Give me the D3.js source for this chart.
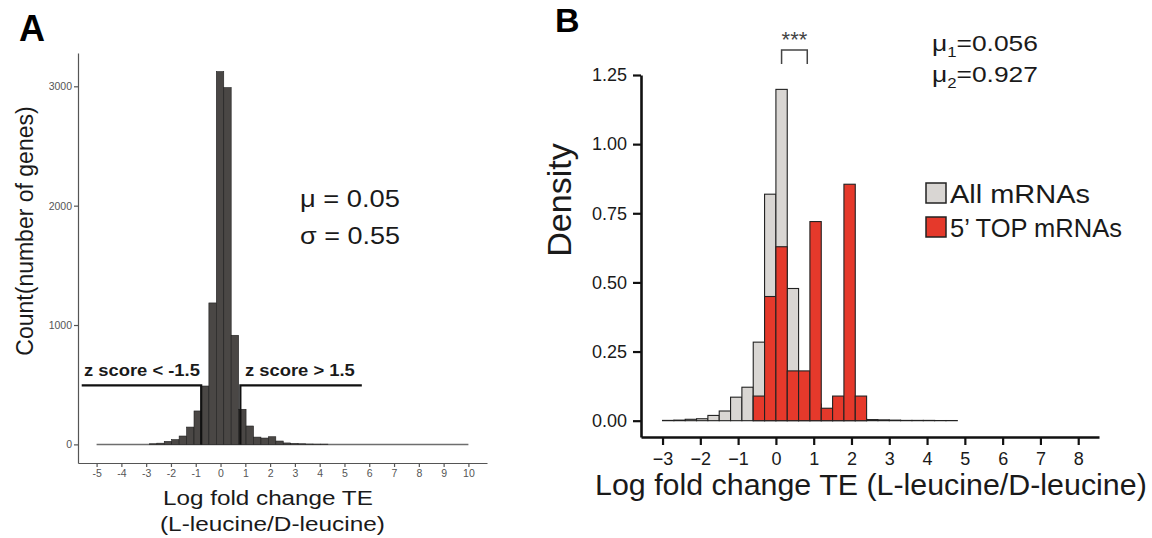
<!DOCTYPE html>
<html>
<head>
<meta charset="utf-8">
<script src="https://cdn.jsdelivr.net/npm/d3@7"></script>
<style>
    body { margin: 0; background: #fff; }
    svg { display: block; font-family: "Liberation Sans", Arial, Helvetica, sans-serif; }
</style>
</head>
<body>
<script>
// ---- Panel A: gene counts, bins of 0.3 (log fold change TE)
var countBinStart = -2.87,
    countBinWidth = 0.3,
    geneCounts = [5, 10, 25, 40, 70, 145, 280, 489, 1185, 3123, 2989, 914,
                  294, 154, 61, 53, 64, 28, 12, 8, 5, 3, 2, 2],
    countRange = [-5, 10],
    countXTicks = [-5, -4, -3, -2, -1, 0, 1, 2, 3, 4, 5, 6, 7, 8, 9, 10],
    countYTicks = [0, 1000, 2000, 3000],
    zCut = [-0.78, 0.8],
    zLevel = 495,
    zSpan = [-5.6, 5.7],
    statsA = ['\u03bc = 0.05', '\u03c3 = 0.55'];

// ---- Panel B: density, bins of 0.3 starting at -3
var densityBinStart = -3,
    densityBinWidth = 0.3,
    allDensity = [0.001, 0.002, 0.005, 0.007, 0.019, 0.035, 0.085, 0.121, 0.284, 0.819,
                  1.198, 0.478, 0.15, 0.06, 0.03, 0.015, 0.009, 0.006, 0.004, 0.003,
                  0.002, 0.001, 0.001, 0.001, 0.0005, 0.0005],
    topDensity = [0, 0, 0, 0, 0, 0, 0, 0, 0.089, 0.449,
                  0.629, 0.18, 0.18, 0.72, 0.045, 0.089, 0.855, 0.089, 0, 0,
                  0, 0, 0, 0, 0, 0],
    seriesNames = ['All mRNAs', '5\u2019 TOP mRNAs'],
    seriesColors = ['#d9d6d3', '#e5392b'],
    densityXTicks = [-3, -2, -1, 0, 1, 2, 3, 4, 5, 6, 7, 8],
    densityYTicks = [0, 0.25, 0.5, 0.75, 1, 1.25],
    meanValues = ['0.056', '0.927'],
    bracketX = [0.15, 0.83];

var width = 1152,
    height = 538;

var svg = d3.select('body').append('svg')
    .attr('width', width)
    .attr('height', height);

svg.append('rect').attr('width', width).attr('height', height).attr('fill', '#fff');

// squeeze/stretch a text horizontally to a measured width
function fitText(parent, x, y, w, size, anchor, weight) {
    var t = parent.append('text')
        .attr('font-size', size)
        .attr('font-weight', weight || 'normal')
        .attr('fill', '#1a1a1a');
    return {
        node: t,
        done: function () {
            var len = t.node().getBBox().width;
            var x0 = anchor === 'middle' ? x - w / 2 : x;
            t.attr('transform', 'translate(' + x0 + ',' + y + ') scale(' + (w / len) + ',1)');
            return t;
        }
    };
}
function plainFit(parent, str, x, y, w, size, anchor, weight) {
    var f = fitText(parent, x, y, w, size, anchor, weight);
    f.node.text(str);
    return f.done();
}

// ****************** Panel A ***************************
var gA = svg.append('g');

var xA = d3.scaleLinear().domain([-5.75, 10.75]).range([78, 487]),
    yA = d3.scaleLinear().domain([-156, 3279]).range([463, 53]);

gA.append('g')
    .attr('transform', 'translate(78,0)')
    .call(d3.axisLeft(yA).tickValues(countYTicks).tickSize(4).tickSizeOuter(0).tickPadding(2)
        .tickFormat(function (d) { return String(d); }));

gA.append('g')
    .attr('transform', 'translate(0,463)')
    .call(d3.axisBottom(xA).tickValues(countXTicks).tickSize(4).tickSizeOuter(0).tickPadding(3)
        .tickFormat(function (d) { return String(d); }));

gA.selectAll('.domain, .tick line').attr('stroke', '#555').attr('stroke-width', 1.2);
gA.selectAll('.tick text').attr('fill', '#555').attr('font-size', 10.5)
    .attr('font-family', '"Liberation Sans", Arial, sans-serif');

// zero-count bins show up as a flat line over the whole range
gA.append('line')
    .attr('x1', xA(countRange[0]))
    .attr('x2', xA(countRange[1]))
    .attr('y1', yA(0))
    .attr('y2', yA(0))
    .attr('stroke', '#6e6e6e')
    .attr('stroke-width', 1.5);

gA.selectAll('rect.bar')
    .data(geneCounts)
    .enter().append('rect')
    .attr('class', 'bar')
    .attr('x', function (d, i) { return xA(countBinStart + i * countBinWidth); })
    .attr('width', function (d, i) {
        return xA(countBinStart + (i + 1) * countBinWidth) - xA(countBinStart + i * countBinWidth);
    })
    .attr('y', function (d) { return yA(d); })
    .attr('height', function (d) { return yA(0) - yA(d); })
    .attr('fill', '#4a4745')
    .attr('stroke', '#1e1e1e')
    .attr('stroke-width', 0.6);

// z score cut-off lines
gA.append('path')
    .attr('d', 'M' + xA(zSpan[0]) + ',' + yA(zLevel) + 'H' + xA(zCut[0]) + 'V' + yA(0))
    .attr('fill', 'none').attr('stroke', '#111').attr('stroke-width', 2.2);
gA.append('path')
    .attr('d', 'M' + xA(zCut[1]) + ',' + yA(0) + 'V' + yA(zLevel) + 'H' + xA(zSpan[1]))
    .attr('fill', 'none').attr('stroke', '#111').attr('stroke-width', 2.2);

plainFit(gA, 'z score < -1.5', 84, 376, 116, 17, 'start', 'bold');
plainFit(gA, 'z score > 1.5', 245, 376, 110, 17, 'start', 'bold');

plainFit(gA, statsA[0], 300, 207, 100, 23, 'start');
plainFit(gA, statsA[1], 300, 244, 100, 23, 'start');

gA.append('text')
    .attr('x', 19).attr('y', 41)
    .attr('font-size', 36).attr('font-weight', 'bold')
    .text('A');

gA.append('text')
    .attr('transform', 'translate(33,231) rotate(-90)')
    .attr('text-anchor', 'middle')
    .attr('font-size', 23)
    .attr('fill', '#1a1a1a')
    .text('Count(number of genes)');

plainFit(gA, 'Log fold change TE', 268, 505, 210, 21, 'middle');
plainFit(gA, '(L-leucine/D-leucine)', 272.5, 531, 225, 21, 'middle');

// ****************** Panel B ***************************
var gB = svg.append('g');

var xB = d3.scaleLinear().domain([-3.57, 8.55]).range([641, 1099]),
    yB = d3.scaleLinear().domain([-0.059, 1.25]).range([437, 75]);

function binX(i) { return xB(densityBinStart + i * densityBinWidth); }

function drawBars(values, color) {
    gB.append('g').selectAll('rect')
        .data(values.map(function (v, i) { return { v: v, i: i }; })
            .filter(function (d) { return d.v > 0; }))
        .enter().append('rect')
        .attr('x', function (d) { return binX(d.i); })
        .attr('width', function (d) { return binX(d.i + 1) - binX(d.i); })
        .attr('y', function (d) { return yB(d.v); })
        .attr('height', function (d) { return yB(0) - yB(d.v); })
        .attr('fill', color)
        .attr('stroke', '#222')
        .attr('stroke-width', 1.1);
}
drawBars(allDensity, seriesColors[0]);
drawBars(topDensity, seriesColors[1]);

gB.append('g')
    .attr('transform', 'translate(641,0)')
    .call(d3.axisLeft(yB).tickValues(densityYTicks).tickSize(8).tickSizeOuter(0).tickPadding(6)
        .tickFormat(d3.format('.2f')));

gB.append('g')
    .attr('transform', 'translate(0,437)')
    .call(d3.axisBottom(xB).tickValues(densityXTicks).tickSize(8).tickSizeOuter(0).tickPadding(7)
        .tickFormat(d3.format('d')));

gB.selectAll('.domain').attr('stroke', '#111').attr('stroke-width', 2.6);
gB.selectAll('.tick line').attr('stroke', '#111').attr('stroke-width', 2.2);
gB.selectAll('.tick text').attr('fill', '#1a1a1a').attr('font-size', 18)
    .attr('font-family', '"Liberation Sans", Arial, sans-serif');

gB.append('text')
    .attr('x', 555).attr('y', 32)
    .attr('font-size', 34).attr('font-weight', 'bold')
    .text('B');

gB.append('text')
    .attr('transform', 'translate(571,200) rotate(-90)')
    .attr('text-anchor', 'middle')
    .attr('font-size', 34)
    .attr('fill', '#1a1a1a')
    .text('Density');

plainFit(gB, 'Log fold change TE (L-leucine/D-leucine)', 871, 495, 552, 30, 'middle');

// significance bracket
gB.append('text')
    .attr('x', (xB(bracketX[0]) + xB(bracketX[1])) / 2)
    .attr('y', 47)
    .attr('text-anchor', 'middle')
    .attr('font-size', 22)
    .attr('fill', '#444')
    .text('***');
gB.append('path')
    .attr('d', 'M' + xB(bracketX[0]) + ',64V50H' + xB(bracketX[1]) + 'V64')
    .attr('fill', 'none')
    .attr('stroke', '#444')
    .attr('stroke-width', 1.5);

// means
meanValues.forEach(function (m, i) {
    var f = fitText(gB, 932, 51 + i * 31, 106, 22, 'start');
    f.node.append('tspan').text('\u03bc');
    f.node.append('tspan').attr('font-size', 14).attr('dy', 6).text(String(i + 1));
    f.node.append('tspan').attr('dy', -6).text('=' + m);
    f.done();
});

// legend
var legendWidths = [140, 172];
seriesNames.forEach(function (name, i) {
    gB.append('rect')
        .attr('x', 926).attr('y', 183 + i * 34)
        .attr('width', 20).attr('height', 20)
        .attr('fill', seriesColors[i])
        .attr('stroke', '#222')
        .attr('stroke-width', 1.5);
    plainFit(gB, name, 950, 203 + i * 34, legendWidths[i], 26, 'start');
});
</script>
</body>
</html>
